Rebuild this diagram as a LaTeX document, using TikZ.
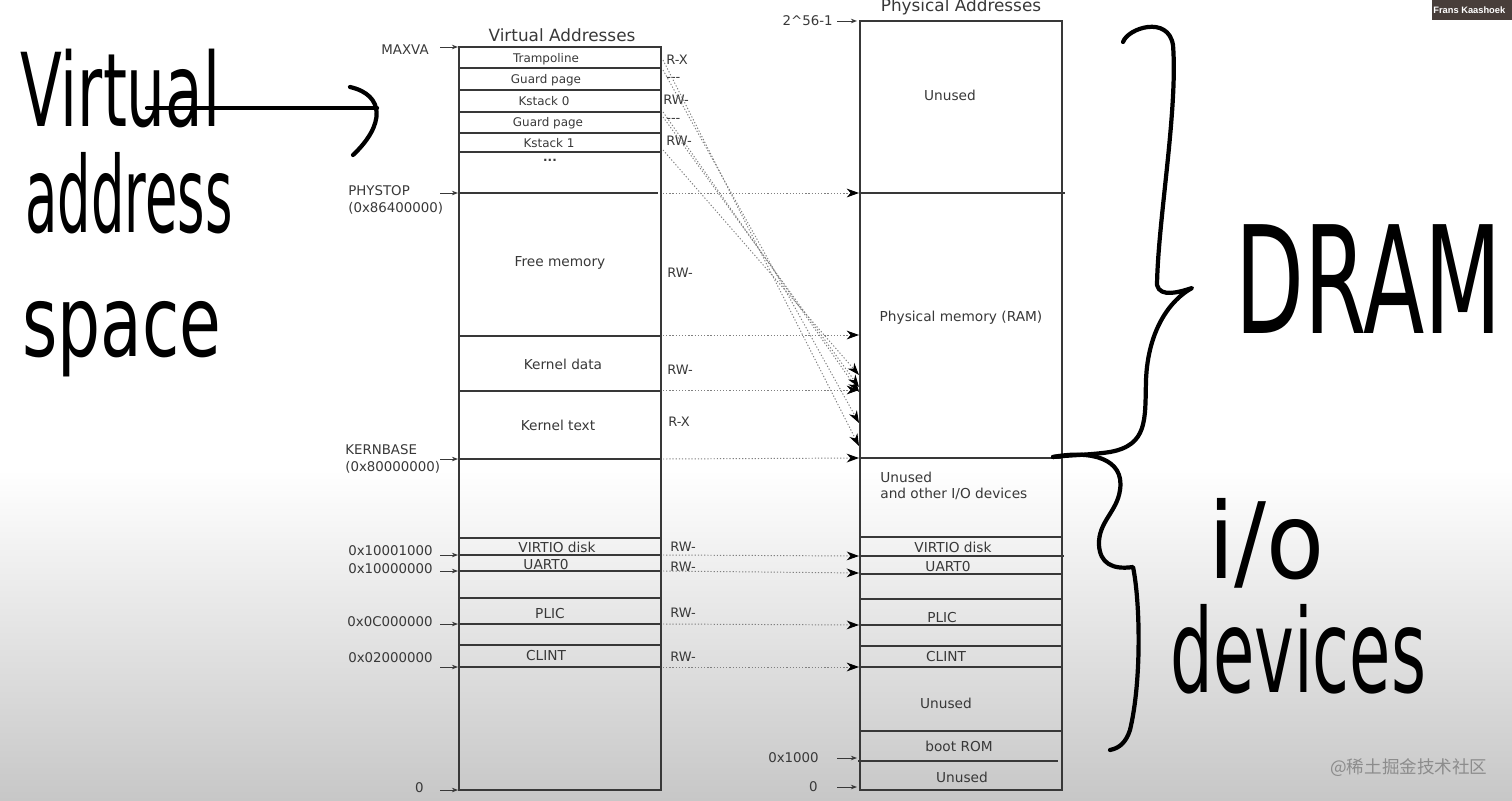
\documentclass[tikz,border=0pt]{standalone}
\usepackage{fontspec}
\setsansfont{DejaVu Sans}
\newfontfamily\tagfont{Liberation Sans}
\newfontfamily\cjkfont{Noto Sans CJK SC}
\usetikzlibrary{arrows.meta, positioning, calc}
\definecolor{inkgray}{gray}{0.22}
\definecolor{dotgray}{gray}{0.5}
\definecolor{tagbrown}{RGB}{72,62,58}

\begin{document}
\begin{tikzpicture}[x=0.02cm, y=-0.02cm,
    box/.style={draw=inkgray, line width=0.9pt},
    sep/.style={draw=inkgray, line width=0.75pt},
    lbl/.style={font=\sffamily\fontsize{7.8}{9.4}\selectfont, text=inkgray, inner sep=0pt},
    small/.style={lbl, font=\sffamily\fontsize{6.8}{8}\selectfont},
    perm/.style={lbl, font=\sffamily\fontsize{7.4}{9}\selectfont, anchor=west},
    addr/.style={lbl, font=\sffamily\fontsize{7.6}{9.4}\selectfont},
    title/.style={lbl, font=\sffamily\fontsize{9.6}{11}\selectfont},
    tick/.style={-{Stealth[length=3.5pt, width=2.6pt]}, draw=inkgray, line width=0.5pt},
    map/.style={draw=dotgray, line width=0.55pt, dash pattern=on 0.7pt off 1.1pt,
        -{Stealth[length=7pt, width=5pt, inset=2.2pt, black]}},
    hand/.style={line width=2.4pt, line cap=round, line join=round},
    hw/.style={font=\sffamily\fontsize{60}{60}\selectfont, inner sep=0pt, anchor=base west}]

    \useasboundingbox (0,0) rectangle (1512,801);
    % Backdrop fading to grey
    \shade[top color=white, bottom color=black!22] (0,470) rectangle (1512,801);

    % Virtual address column
    \draw[box] (459,47) rectangle (661,790);
    \foreach \y in {68,90,112,133,152,336,391,459,538,555,571,598,624,645,667}
        \draw[sep] (459,\y) -- (661,\y);
    \draw[sep] (459,193) -- (658,193);
    \node[title] (vtitle) at (562,35) {Virtual Addresses};
    \node[small] (vtramp) at (546,59) {Trampoline};
    \node[small] (vguarda) at (546,80) {Guard page};
    \node[small] (vkstacka) at (544,101) {Kstack 0};
    \node[small] (vguardb) at (548,123) {Guard page};
    \node[small] (vkstackb) at (549,143) {Kstack 1};
    \node[small, anchor=base] (vdots) at (550,161) {\textbf{...}};
    \node[lbl] (vfree) at (560,263) {Free memory};
    \node[lbl] (vkdata) at (563,364) {Kernel data};
    \node[lbl] (vktext) at (558,425) {Kernel text};
    \node[lbl] (vvirtio) at (557,547) {VIRTIO disk};
    \node[lbl] (vuart) at (546,565) {UART0};
    \node[lbl] (vplic) at (550,614) {PLIC};
    \node[lbl] (vclint) at (546,656) {CLINT};

    % Permissions
    \node[perm] (ptramp) at (666,60) {R-X};
    \node[perm] (pguarda) at (666,79) {-{}-{}-};
    \node[perm] (pkstacka) at (663,100) {RW-};
    \node[perm] (pguardb) at (666,120) {-{}-{}-};
    \node[perm] (pkstackb) at (666,141) {RW-};
    \node[perm] (pfree) at (667,273) {RW-};
    \node[perm] (pkdata) at (667,370) {RW-};
    \node[perm] (pktext) at (668,422) {R-X};
    \node[perm] (pvirtio) at (670,547) {RW-};
    \node[perm] (puart) at (670,567) {RW-};
    \node[perm] (pplic) at (670,613) {RW-};
    \node[perm] (pclint) at (670,657) {RW-};

    % Virtual addresses
    \node[addr, anchor=east] (amaxva) at (429,50) {MAXVA};
    \node[addr, anchor=west, align=left] (aphystop) at (348,200) {PHYSTOP\\(0x86400000)};
    \node[addr, anchor=west, align=left] (akernbase) at (345,459) {KERNBASE\\(0x80000000)};
    \node[addr, anchor=east] (avirtio) at (433,551) {0x10001000};
    \node[addr, anchor=east] (auart) at (433,569) {0x10000000};
    \node[addr, anchor=east] (aplic) at (433,622) {0x0C000000};
    \node[addr, anchor=east] (aclint) at (433,658) {0x02000000};
    \node[addr, anchor=east] (azero) at (424,788) {0};
    \foreach \n/\y in {maxva/47, phystop/193, kernbase/459, virtio/555, uart/571, plic/624, clint/667, zero/790} {
        \coordinate (l\n) at (458,\y);
        \draw[tick] ([xshift=-0.36cm]l\n) -- (l\n);
    }

    % Physical address column
    \draw[box] (860,21) rectangle (1062,790);
    \draw[sep] (860,193) -- (1065,193);
    \foreach \y in {458,537,574,599,625,646,667,731}
        \draw[sep] (860,\y) -- (1062,\y);
    \draw[sep] (860,556) -- (1064,556);
    \draw[sep] (858,761) -- (1058,761);
    \node[title] (ptitle) at (961,7) {Physical Addresses};
    \node[lbl] (punusedtop) at (950,95) {Unused};
    \node[lbl] (pram) at (961,318) {Physical memory (RAM)};
    \node[lbl, anchor=west, align=left] (punusedio) at (880,486) {Unused\\and other I/O devices};
    \node[lbl] (pvirtiobox) at (953,547) {VIRTIO disk};
    \node[lbl] (puartbox) at (948,567) {UART0};
    \node[lbl] (pplicbox) at (942,618) {PLIC};
    \node[lbl] (pclintbox) at (946,657) {CLINT};
    \node[lbl] (punusedlow) at (946,703) {Unused};
    \node[lbl] (pbootrom) at (959,746) {boot ROM};
    \node[lbl] (punusedbot) at (962,777) {Unused};
    \node[addr, anchor=east] (atop) at (833,21) {2\textasciicircum 56-1};
    \node[addr, anchor=east] (arom) at (819,758) {0x1000};
    \node[addr, anchor=east] (apzero) at (818,787) {0};
    \foreach \n/\y in {top/21, rom/758, pzero/787} {
        \coordinate (r\n) at (857,\y);
        \draw[tick] ([xshift=-0.4cm]r\n) -- (r\n);
    }

    % Straight mappings
    \foreach \n/\vy/\py in {phystop/193/193, kdata/335/335, ktext/390/390, kernbase/459/458,
                            virtio/555/556, uart/571/573, plic/624/625, clint/667/667} {
        \coordinate (v\n) at (663,\vy);
        \coordinate (m\n) at (859,\py);
        \draw[map] (v\n) -- (m\n);
    }
    % Trampoline and kernel stacks
    \foreach \n/\vy/\py in {tramp/60/446, trampb/70/423, kstacka/112/392, kstackb/117/387, kstackc/150/375} {
        \coordinate (s\n) at (663,\vy);
        \coordinate (d\n) at (859,\py);
        \draw[map] (s\n) -- (d\n);
    }

    % Handwriting on the left
    \node[hw, text depth=0pt, font=\sffamily\fontsize{58}{58}\selectfont] (hwvirtual) at (20,126) {\scalebox{0.6}[1]{Virtual}};
    \node[hw, text depth=0pt, text height=40pt] (hwaddress) at (25,232) {\scalebox{0.5}[1]{address}};
    \node[hw, text height=30pt, font=\sffamily\fontsize{56}{56}\selectfont] (hwspace) at (22,356) {\scalebox{0.69}[1]{space}};
    \draw[hand] (147,108) -- (377,108);
    \draw[hand] (350,87) .. controls (385,95) and (385,125) .. (353,155);

    % Braces on the right
    \draw[hand] (1123,42) .. controls (1128,28) and (1168,15) .. (1173,45)
        .. controls (1178,110) and (1158,220) .. (1157,285)
        .. controls (1160,298) and (1180,292) .. (1192,288)
        .. controls (1170,300) and (1148,330) .. (1146,380)
        .. controls (1145,420) and (1148,445) .. (1110,452)
        .. controls (1090,455) and (1070,455) .. (1053,457);
    \draw[hand] (1053,457) .. controls (1090,450) and (1125,458) .. (1120,490)
        .. controls (1117,512) and (1098,522) .. (1099,545)
        .. controls (1100,563) and (1112,570) .. (1133,567)
        .. controls (1140,600) and (1142,680) .. (1130,730)
        .. controls (1126,742) and (1120,748) .. (1110,750);
    \node[hw, font=\sffamily\fontsize{85}{85}\selectfont] (hwdram) at (1235,333) {\scalebox{0.6}[1]{DRAM}};
    \node[hw] (hwio) at (1208,578) {\scalebox{0.9}[1]{i/o}};
    \node[hw, font=\sffamily\fontsize{66}{66}\selectfont] (hwdevices) at (1170,692) {\scalebox{0.58}[1]{devices}};

    % Speaker tag and watermark
    \fill[tagbrown] (1432,0) rectangle (1512,20);
    \node[font=\tagfont\bfseries\fontsize{5.3}{6}\selectfont, text=white, anchor=west, inner sep=0pt] (speaker) at (1433,10) {Frans Kaashoek};
    \node[font=\cjkfont\fontsize{10}{12}\selectfont, text=black!45, anchor=west, inner sep=0pt] (mark) at (1330,768) {@稀土掘金技术社区};
\end{tikzpicture}
\end{document}
